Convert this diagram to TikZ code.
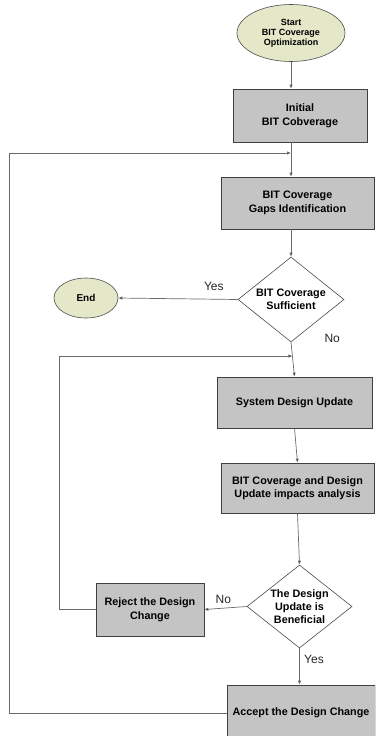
\documentclass[tikz,border=0pt]{standalone}
\usepackage{fontspec}
\setmainfont{Liberation Sans}
\usetikzlibrary{shapes.geometric,arrows.meta,shadows,calc}
\definecolor{boxgray}{HTML}{C4C4C4}
\definecolor{termfill}{HTML}{E4E7C8}
\definecolor{linegray}{HTML}{6A6A6A}
\begin{document}
\begin{tikzpicture}[x=1pt,y=-1pt,
  term/.style={ellipse, draw=black!70, line width=0.6pt, fill=termfill,
    font=\bfseries\fontsize{9}{10}\selectfont, align=center, inner sep=0pt},
  proc/.style={rectangle, draw=black!75, line width=0.7pt, fill=boxgray,
    font=\bfseries\fontsize{10.8}{13.5}\selectfont, align=center, inner sep=2pt,
    drop shadow={shadow xshift=1.2pt, shadow yshift=-1.2pt, fill=black!55, opacity=1}},
  decide/.style={diamond, draw=black!70, line width=0.6pt, fill=white,
    font=\bfseries\fontsize{10.8}{13.2}\selectfont, align=center, inner sep=0pt, aspect=1.25},
  arr/.style={draw=linegray, line width=0.7pt, -{Latex[length=4pt,width=3.4pt,fill=black]}},
  lbl/.style={font=\fontsize{12}{14}\selectfont, text=black!85}]
\clip (0,0) rectangle (375,736);
\useasboundingbox (0,0) rectangle (375,736);

% nodes of the flow
\node[term, minimum width=108pt, minimum height=57pt] (start) at (291,33)
  {Start\\BIT Coverage\\Optimization};
\node[proc, minimum width=134pt, minimum height=53pt] (init) at (300,115.5)
  {Initial\\BIT Cobverage};
\node[proc, minimum width=153pt, minimum height=52pt] (gaps) at (297.5,203)
  {BIT Coverage\\Gaps Identification};
\node[decide, minimum width=106pt, minimum height=85pt] (suff) at (291,299.5)
  {BIT Coverage\\Sufficient};
\node[term, minimum width=64pt, minimum height=40pt,
  font=\bfseries\fontsize{10}{11}\selectfont] (end) at (86,298) {End};
\node[proc, minimum width=155pt, minimum height=51pt] (sdu) at (294.5,402.5)
  {System Design Update};
\node[proc, minimum width=153pt, minimum height=50pt] (impact) at (297.5,488)
  {BIT Coverage and Design\\Update impacts analysis};
\node[decide, minimum width=105pt, minimum height=83pt] (benef) at (299.5,606.5)
  {The Design\\Update is\\Beneficial};
\node[proc, minimum width=108pt, minimum height=53pt] (reject) at (150,609.5)
  {Reject the Design\\Change};
\node[proc, minimum width=148pt, minimum height=56pt] (accept) at (301,713)
  {Accept the Design Change};

% main flow
\draw[arr] (start.south) -- (init.north -| start);
\draw[arr] (init.south -| start) -- (gaps.north -| start);
\coordinate (j1) at ($(init.south -| start)!0.31!(gaps.north -| start)$);
\draw[arr] (gaps.south -| start) -- (suff.north);
\draw[arr] (suff.west) -- node[lbl, above=5pt, pos=0.2] {Yes} (end.east);
\draw[arr] (suff.south) -- (sdu.north);
\coordinate (j2) at ($(suff.south)!0.4!(sdu.north)$);
\node[lbl, anchor=west] (nolbl) at (321,338) {No};
\draw[arr] (sdu.south) -- (impact.north);
\draw[arr] (impact.south) -- (benef.north);
\draw[arr] (benef.west) -- node[lbl, above=1pt, pos=0.55] {No} (reject.east);
\draw[arr] (benef.south) -- node[lbl, right=1pt, pos=0.3] {Yes} (benef.south |- accept.north);

% feedback loops
\coordinate (outer) at (9,0);
\coordinate (inner) at (59,0);
\draw[arr] (accept.west) -| (outer |- j1) -- (j1);
\draw[arr] (reject.west) -| (inner |- j2) -- (j2);
\end{tikzpicture}
\end{document}
